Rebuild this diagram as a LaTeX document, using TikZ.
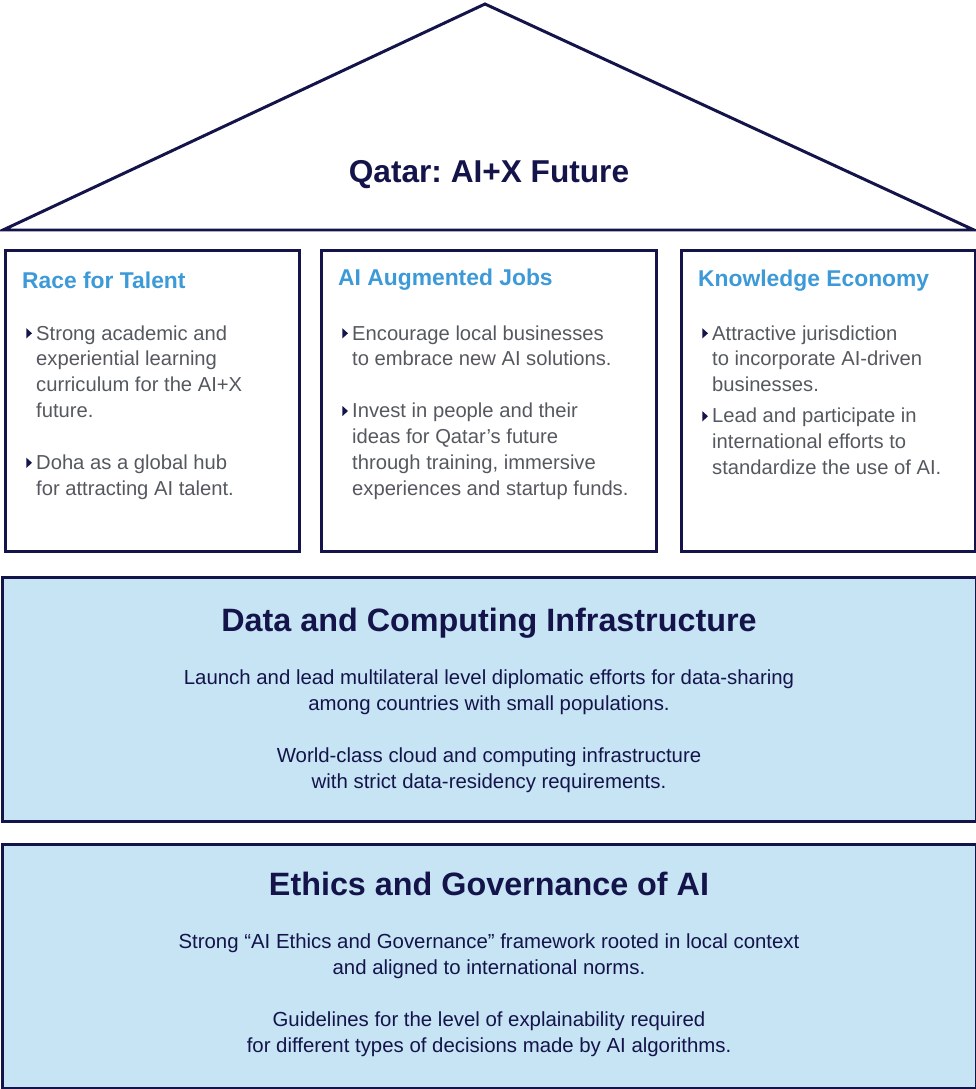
\documentclass[tikz,border=0pt]{standalone}
\usepackage{fontspec}
\setmainfont{Liberation Sans}
\frenchspacing
\definecolor{ink}{HTML}{14144A}
\definecolor{sky}{HTML}{3D9AD8}
\definecolor{grey}{HTML}{55595F}
\definecolor{band}{HTML}{C6E4F4}
% small navy triangle in front of each point
\newcommand{\itemtri}{\tikz[baseline=-3.8pt]\fill[ink] (0pt,2.9pt) -- (3.2pt,0pt) -- (0pt,-2.9pt) -- cycle;\hspace{2.4pt}}
\newcommand{\itemgap}{\hphantom{\itemtri}}

\begin{document}
\begin{tikzpicture}[
  x=0.02cm,y=-0.02cm,
  text=ink,
  frame/.style={draw=ink,line width=1.7pt},
  pillar/.style={frame,fill=white,anchor=north west,minimum height=6.02cm},
  floor/.style={frame,fill=band,anchor=north west,minimum width=19.48cm,minimum height=4.88cm},
  head/.style={anchor=west,text=sky,font=\bfseries\fontsize{13}{15}\selectfont},
  points/.style={anchor=north west,align=left,text=grey,
    font=\fontsize{11.5}{14.74}\selectfont,inner sep=0pt},
  bigtitle/.style={font=\bfseries\fontsize{18.4}{22}\selectfont},
  body/.style={align=center,font=\fontsize{11.6}{14.74}\selectfont,inner sep=0pt}
]
\useasboundingbox (0,0) rectangle (976,1089);

% roof
\draw[frame,line join=miter] (3,230) -- (485,4) -- (974,230) -- cycle;
\node[font=\bfseries\fontsize{18}{21}\selectfont] (roof) at (489,175) {Qatar: AI+X Future};

% three pillars
\node[pillar,minimum width=5.88cm] (talent) at (4,249) {};
\node[pillar,minimum width=6.7cm] (jobs) at (320,249) {};
\node[pillar,minimum width=5.88cm] (economy) at (680,249) {};

\node[head] (talenthead) at (16,280) {Race for Talent};
\node[points] (talentpts) at (26,325) {%
  \itemtri Strong academic and\\
  \itemgap experiential learning\\
  \itemgap curriculum for the AI+X\\
  \itemgap future.\\[14.74pt]
  \itemtri Doha as a global hub\\
  \itemgap for attracting AI talent.};

\node[head] (jobshead) at (332,280) {AI Augmented Jobs};
\node[points] (jobspts) at (342,325) {%
  \itemtri Encourage local businesses\\
  \itemgap to embrace new AI solutions.\\[14.74pt]
  \itemtri Invest in people and their\\
  \itemgap ideas for Qatar’s future\\
  \itemgap through training, immersive\\
  \itemgap experiences and startup funds.};

\node[head] (economyhead) at (692,281) {Knowledge Economy};
\node[points] (economypts) at (702,325) {%
  \itemtri Attractive jurisdiction\\
  \itemgap to incorporate AI-driven\\
  \itemgap businesses.\\[3pt]
  \itemtri Lead and participate in\\
  \itemgap international efforts to\\
  \itemgap standardize the use of AI.};

% foundation bands
\node[floor] (data) at (1,576) {};
\node[bigtitle] (datatitle) at (489,623) {Data and Computing Infrastructure};
\node[body] (datatxt) at (489,731) {%
  Launch and lead multilateral level diplomatic efforts for data-sharing\\
  among countries with small populations.\\[14.74pt]
  World-class cloud and computing infrastructure\\
  with strict data-residency requirements.};

\node[floor] (ethics) at (1,843) {};
\node[bigtitle] (ethicstitle) at (489,884) {Ethics and Governance of AI};
\node[body] (ethicstxt) at (489,995) {%
  Strong “AI Ethics and Governance” framework rooted in local context\\
  and aligned to international norms.\\[14.74pt]
  Guidelines for the level of explainability required\\
  for different types of decisions made by AI algorithms.};
\end{tikzpicture}
\end{document}
